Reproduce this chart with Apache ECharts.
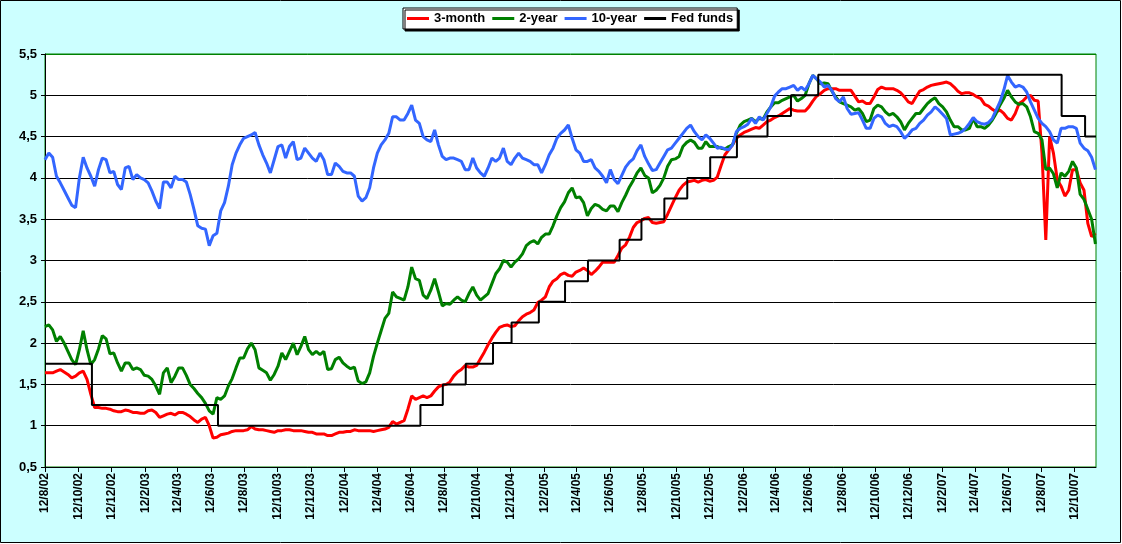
<!DOCTYPE html>
<html>
<head>
<meta charset="utf-8">
<title>Rates</title>
<script src="https://cdn.jsdelivr.net/npm/echarts@6/dist/echarts.min.js"></script>
<style>
  html, body { margin: 0; padding: 0; background: #fff; }
  #main { width: 1122px; height: 544px; }
</style>
</head>
<body>
<div id="main"></div>
<script>
// axis runs over every calendar day, samples are weekly (mondays) from the first day
var firstDay = '2002-08-12';
var lastDay = '2007-11-20';

var threeMonth = [
  1.64,1.64,1.64,1.66,1.68,1.65,1.62,1.58,1.60,1.64,
  1.66,1.56,1.38,1.22,1.22,1.21,1.21,1.20,1.18,1.17,
  1.17,1.19,1.18,1.16,1.16,1.15,1.15,1.18,1.19,1.16,
  1.10,1.12,1.14,1.15,1.13,1.16,1.16,1.14,1.11,1.07,
  1.04,1.08,1.10,1.00,0.85,0.86,0.89,0.90,0.91,0.93,
  0.94,0.94,0.94,0.95,0.99,0.96,0.95,0.95,0.94,0.93,
  0.92,0.94,0.94,0.95,0.95,0.94,0.94,0.94,0.93,0.92,
  0.92,0.90,0.90,0.90,0.88,0.88,0.90,0.92,0.92,0.93,
  0.93,0.95,0.94,0.94,0.94,0.94,0.93,0.94,0.95,0.96,
  0.98,1.05,1.02,1.04,1.06,1.20,1.36,1.32,1.34,1.36,
  1.34,1.36,1.42,1.47,1.49,1.50,1.53,1.60,1.65,1.68,
  1.73,1.71,1.71,1.73,1.81,1.89,1.98,2.06,2.13,2.19,
  2.21,2.22,2.20,2.21,2.27,2.32,2.35,2.37,2.40,2.49,
  2.52,2.56,2.68,2.75,2.78,2.83,2.85,2.82,2.81,2.86,
  2.88,2.91,2.88,2.83,2.87,2.92,2.98,2.98,2.98,2.98,
  3.06,3.15,3.19,3.28,3.40,3.46,3.48,3.51,3.52,3.46,
  3.45,3.46,3.47,3.56,3.66,3.76,3.85,3.91,3.95,3.96,
  3.97,3.95,3.97,3.98,3.96,3.97,4.01,4.15,4.28,4.34,
  4.40,4.48,4.52,4.55,4.57,4.59,4.61,4.60,4.64,4.68,
  4.70,4.73,4.75,4.78,4.81,4.84,4.82,4.81,4.81,4.81,
  4.86,4.93,4.99,5.02,5.06,5.08,5.08,5.08,5.06,5.06,
  5.06,5.06,4.99,4.92,4.93,4.90,4.90,4.98,5.07,5.10,
  5.08,5.08,5.08,5.06,5.03,4.98,4.92,4.90,4.98,5.05,
  5.07,5.10,5.12,5.13,5.14,5.15,5.16,5.14,5.10,5.05,
  5.02,5.03,5.03,5.01,4.98,4.96,4.89,4.87,4.83,4.80,
  4.82,4.78,4.72,4.70,4.78,4.90,4.93,4.98,5.00,4.94,
  4.93,4.30,3.25,4.50,4.30,3.98,3.90,3.78,3.85,4.10,
  4.10,3.94,3.85,3.45,3.29,3.33
];

var twoYear = [
  2.20,2.22,2.16,2.02,2.08,2.00,1.90,1.80,1.74,1.92,
  2.15,1.92,1.74,1.80,1.93,2.09,2.05,1.87,1.88,1.76,
  1.66,1.76,1.76,1.68,1.70,1.68,1.61,1.60,1.56,1.48,
  1.38,1.64,1.70,1.52,1.60,1.70,1.70,1.61,1.50,1.45,
  1.39,1.34,1.27,1.18,1.14,1.34,1.32,1.36,1.48,1.57,
  1.70,1.82,1.82,1.93,2.00,1.92,1.70,1.67,1.64,1.55,
  1.62,1.72,1.88,1.80,1.90,2.00,1.86,1.96,2.08,1.92,
  1.86,1.90,1.86,1.90,1.68,1.69,1.80,1.83,1.76,1.72,
  1.69,1.71,1.54,1.51,1.53,1.64,1.84,2.00,2.15,2.30,
  2.36,2.62,2.56,2.54,2.52,2.68,2.92,2.78,2.76,2.58,
  2.54,2.64,2.78,2.62,2.45,2.48,2.47,2.52,2.56,2.52,
  2.50,2.60,2.68,2.58,2.52,2.56,2.60,2.72,2.84,2.90,
  3.00,2.98,2.92,2.98,3.02,3.08,3.18,3.22,3.24,3.20,
  3.28,3.32,3.32,3.42,3.54,3.64,3.71,3.82,3.88,3.76,
  3.77,3.70,3.54,3.63,3.68,3.66,3.62,3.60,3.66,3.66,
  3.59,3.70,3.79,3.89,3.97,4.06,4.12,4.03,4.00,3.82,
  3.85,3.91,4.00,4.14,4.22,4.23,4.26,4.38,4.43,4.46,
  4.43,4.36,4.36,4.44,4.38,4.38,4.38,4.36,4.35,4.38,
  4.40,4.54,4.64,4.68,4.70,4.72,4.68,4.72,4.71,4.80,
  4.86,4.91,4.91,4.94,4.96,4.98,5.00,4.93,4.96,5.00,
  5.14,5.24,5.20,5.14,5.15,5.14,5.05,4.98,4.92,4.90,
  4.88,4.86,4.82,4.84,4.78,4.68,4.70,4.84,4.88,4.86,
  4.80,4.76,4.78,4.74,4.68,4.58,4.66,4.72,4.78,4.78,
  4.84,4.90,4.94,4.97,4.90,4.86,4.80,4.70,4.62,4.62,
  4.58,4.58,4.60,4.72,4.62,4.62,4.60,4.64,4.70,4.78,
  4.88,4.96,5.06,4.98,4.92,4.89,4.90,4.86,4.74,4.56,
  4.54,4.46,4.10,4.12,4.05,3.88,4.06,4.02,4.08,4.20,
  4.12,3.80,3.74,3.62,3.50,3.20
];

var tenYear = [
  4.22,4.30,4.25,4.02,3.94,3.85,3.76,3.67,3.64,4.00,
  4.25,4.12,4.02,3.90,4.10,4.24,4.22,4.06,4.08,3.92,
  3.86,4.12,4.14,3.98,4.04,4.00,3.98,3.94,3.84,3.72,
  3.63,3.95,3.95,3.88,4.02,3.98,3.98,3.95,3.80,3.62,
  3.42,3.39,3.38,3.18,3.30,3.33,3.60,3.70,3.90,4.16,
  4.30,4.40,4.48,4.50,4.52,4.55,4.40,4.28,4.18,4.06,
  4.22,4.38,4.40,4.24,4.38,4.44,4.22,4.24,4.36,4.30,
  4.24,4.20,4.30,4.22,4.04,4.04,4.18,4.14,4.08,4.06,
  4.06,4.02,3.78,3.72,3.76,3.88,4.12,4.30,4.40,4.46,
  4.54,4.74,4.74,4.70,4.70,4.78,4.88,4.70,4.66,4.50,
  4.46,4.44,4.58,4.40,4.26,4.22,4.24,4.24,4.22,4.20,
  4.10,4.10,4.24,4.12,4.06,4.02,4.12,4.24,4.20,4.24,
  4.36,4.20,4.16,4.24,4.30,4.24,4.22,4.20,4.16,4.16,
  4.06,4.16,4.28,4.36,4.48,4.54,4.58,4.64,4.48,4.34,
  4.30,4.20,4.20,4.22,4.12,4.08,4.02,3.94,4.10,3.98,
  3.93,4.03,4.13,4.19,4.23,4.33,4.40,4.26,4.17,4.09,
  4.10,4.18,4.26,4.34,4.36,4.42,4.48,4.54,4.60,4.64,
  4.56,4.50,4.46,4.52,4.48,4.42,4.36,4.37,4.35,4.34,
  4.40,4.56,4.60,4.62,4.65,4.72,4.66,4.74,4.70,4.78,
  4.86,4.99,5.04,5.08,5.08,5.10,5.12,5.06,5.10,5.06,
  5.14,5.24,5.20,5.16,5.10,5.12,5.06,4.96,4.92,4.98,
  4.84,4.77,4.78,4.79,4.70,4.60,4.60,4.72,4.76,4.74,
  4.66,4.62,4.64,4.62,4.56,4.48,4.52,4.58,4.60,4.66,
  4.70,4.76,4.80,4.86,4.82,4.77,4.72,4.52,4.53,4.54,
  4.56,4.60,4.66,4.73,4.68,4.66,4.65,4.67,4.72,4.82,
  4.92,5.06,5.24,5.16,5.10,5.12,5.10,5.04,4.92,4.82,
  4.72,4.66,4.62,4.56,4.46,4.42,4.60,4.60,4.62,4.62,
  4.60,4.42,4.36,4.33,4.25,4.10
];

var fedDates = ['2002-08-12','2002-11-06','2003-06-25','2004-06-30','2004-08-10','2004-09-21',
  '2004-11-10','2004-12-14','2005-02-02','2005-03-22','2005-05-03','2005-06-30','2005-08-09',
  '2005-09-20','2005-11-01','2005-12-13','2006-01-31','2006-03-28','2006-05-10','2006-06-29',
  '2007-09-18','2007-10-31','2007-11-20'];
var fedRates = [1.75,1.25,1.00,1.25,1.50,1.75,2.00,2.25,2.50,2.75,3.00,3.25,3.50,
  3.75,4.00,4.25,4.50,4.75,5.00,5.25,4.75,4.50,4.50];

var yTicks = ['0,5','1','1,5','2','2,5','3','3,5','4','4,5','5','5,5'];

function utc(s) {
  var p = s.split('-');
  return Date.UTC(+p[0], +p[1] - 1, +p[2]);
}
function dayIndex(s) {
  return Math.round((utc(s) - utc(firstDay)) / 86400000);
}

var days = [];
var nDays = dayIndex(lastDay);
for (var i = 0; i <= nDays; i++) {
  var d = new Date(utc(firstDay) + i * 86400000);
  days.push(d.toISOString().slice(0, 10));
}

function weekly(arr) {
  return arr.map(function (v, k) { return [k * 7, v]; });
}
var fedData = fedDates.map(function (s, k) { return [dayIndex(s), fedRates[k]]; });

function isLabelDay(idx, val) {
  return val.slice(8) === '12' && (+val.slice(5, 7)) % 2 === 0;
}

var font = "'Liberation Sans', Arial, sans-serif";
var myChart = echarts.init(document.getElementById('main'));

var option = {
  animation: false,
  backgroundColor: '#fff',
  graphic: [{
    type: 'rect', z: -100, silent: true,
    shape: { x: 0.5, y: 0.5, width: 1120, height: 542 },
    style: { fill: '#CCFFFF', stroke: '#000', lineWidth: 1 }
  }],
  legend: {
    left: 403, top: 8,
    padding: [4, 4],
    itemGap: 7,
    itemWidth: 22, itemHeight: 3,
    icon: 'rect',
    backgroundColor: '#fff',
    borderColor: '#000', borderWidth: 1,
    shadowColor: '#000', shadowBlur: 0, shadowOffsetX: 2, shadowOffsetY: 2,
    textStyle: { color: '#000', fontFamily: font, fontWeight: 'bold', fontSize: 13 },
    data: ['3-month', '2-year', '10-year', 'Fed funds']
  },
  grid: {
    left: 45, right: 26, top: 54, bottom: 77,
    show: true, backgroundColor: '#fff',
    borderColor: '#008000', borderWidth: 1,
    containLabel: false, outerBoundsMode: 'none'
  },
  xAxis: {
    type: 'category',
    data: days,
    boundaryGap: false,
    axisLine: { show: true, lineStyle: { color: '#000', width: 1 } },
    axisTick: { show: true, interval: isLabelDay, length: 5, lineStyle: { color: '#000' } },
    axisLabel: {
      interval: isLabelDay, rotate: 90, margin: 6,
      color: '#000', fontFamily: font, fontWeight: 'bold', fontSize: 12,
      formatter: function (v) {
        var p = v.split('-');
        return (+p[2]) + '/' + (+p[1]) + '/' + p[0].slice(2);
      }
    },
    splitLine: { show: false }
  },
  yAxis: {
    type: 'value',
    min: 0.5, max: 5.5, interval: 0.5,
    axisLine: { show: true, lineStyle: { color: '#000', width: 1 } },
    axisTick: { show: true, length: 4, lineStyle: { color: '#000' } },
    axisLabel: {
      margin: 8, color: '#000', fontFamily: font, fontWeight: 'bold', fontSize: 13,
      formatter: function (v) { return yTicks[Math.round((v - 0.5) * 2)]; }
    },
    splitLine: {
      show: true,
      lineStyle: { color: ['#000','#000','#000','#000','#000','#000','#000','#000','#000','#000','#008000'], width: 1 }
    }
  },
  series: [
    { name: '3-month', type: 'line', data: weekly(threeMonth), showSymbol: false,
      color: '#FF0000', lineStyle: { width: 3, color: '#FF0000' } },
    { name: '2-year', type: 'line', data: weekly(twoYear), showSymbol: false,
      color: '#008000', lineStyle: { width: 3, color: '#008000' } },
    { name: '10-year', type: 'line', data: weekly(tenYear), showSymbol: false,
      color: '#3366FF', lineStyle: { width: 3, color: '#3366FF' } },
    { name: 'Fed funds', type: 'line', data: fedData, step: 'end', showSymbol: false,
      color: '#000', lineStyle: { width: 2, color: '#000' } }
  ]
};

myChart.setOption(option);
</script>
</body>
</html>
